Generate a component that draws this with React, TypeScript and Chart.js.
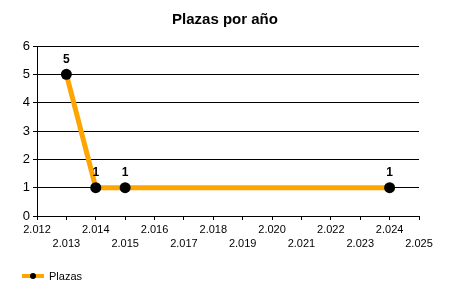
import React, { useEffect, useRef } from "react";
import { Chart, registerables } from "chart.js";

Chart.register(...registerables);

const TITLE = "Plazas por año";
const SERIES_NAME = "Plazas";
const YEARS = [2013, 2014, 2015, 2024];
const VALUES = [5, 1, 1, 1];
const X_MIN = 2012;
const X_MAX = 2025;
const Y_MIN = 0;
const Y_MAX = 6;

const FONT = "'Liberation Sans', Arial, sans-serif";
const ORANGE = "#FFA500";

const fmtYear = (v: number) => {
  const s = String(Math.round(v));
  return s.slice(0, 1) + "." + s.slice(1);
};

const overlayPlugin = {
  id: "overlay",
  afterDatasetsDraw(chart: any) {
    const ctx = chart.ctx;
    const meta = chart.getDatasetMeta(0);
    ctx.save();
    ctx.fillStyle = "#000";
    ctx.font = `bold 12px ${FONT}`;
    ctx.textAlign = "center";
    ctx.textBaseline = "middle";
    meta.data.forEach((pt: any, i: number) => {
      ctx.fillText(String(VALUES[i]), pt.x, pt.y - 15);
    });
    ctx.restore();
  },
  afterDraw(chart: any) {
    const ctx = chart.ctx;
    ctx.save();
    // title
    ctx.fillStyle = "#000";
    ctx.font = `bold 15px ${FONT}`;
    ctx.textAlign = "center";
    ctx.textBaseline = "middle";
    ctx.fillText(TITLE, 225, 20);
    // legend
    const ly = 276;
    ctx.strokeStyle = ORANGE;
    ctx.lineWidth = 4;
    ctx.beginPath();
    ctx.moveTo(22, ly);
    ctx.lineTo(44, ly);
    ctx.stroke();
    ctx.fillStyle = "#000";
    ctx.beginPath();
    ctx.arc(33, ly, 3, 0, Math.PI * 2);
    ctx.fill();
    ctx.font = `11px ${FONT}`;
    ctx.textAlign = "left";
    ctx.fillText(SERIES_NAME, 49, ly + 1);
    ctx.restore();
  },
};

export default function App() {
  const ref = useRef<HTMLCanvasElement | null>(null);
  useEffect(() => {
    if (!ref.current) return;
    const chart = new Chart(ref.current, {
      type: "line",
      data: {
        datasets: [
          {
            label: SERIES_NAME,
            data: YEARS.map((y, i) => ({ x: y, y: VALUES[i] })),
            borderColor: ORANGE,
            backgroundColor: "#000",
            borderWidth: 5,
            pointRadius: 5.5,
            pointBackgroundColor: "#000",
            pointBorderColor: "#000",
            pointBorderWidth: 0,
            tension: 0,
          },
        ],
      },
      options: {
        animation: false,
        responsive: false,
        maintainAspectRatio: false,
        layout: { padding: { left: 0, right: 31, top: 46, bottom: 44 } },
        plugins: {
          legend: { display: false },
          title: { display: false },
          tooltip: { enabled: false },
        },
        scales: {
          x: {
            type: "linear",
            min: X_MIN,
            max: X_MAX,
            afterFit: (s: any) => {
              s.height = 40;
            },
            ticks: {
              stepSize: 1,
              autoSkip: false,
              maxRotation: 0,
              minRotation: 0,
              padding: 3,
              color: "#000",
              font: { family: FONT, size: 11, lineHeight: 1.3 },
              callback: (v: any) => {
                const n = Number(v);
                const t = fmtYear(n);
                return n % 2 === 0 ? [t] : ["", t];
              },
            },
            grid: {
              drawOnChartArea: false,
              drawTicks: true,
              tickLength: 4,
              color: "#000",
            },
            border: { color: "#000", width: 1 },
          },
          y: {
            min: Y_MIN,
            max: Y_MAX,
            afterFit: (s: any) => {
              s.width = 37;
            },
            ticks: {
              stepSize: 1,
              padding: 3,
              color: "#000",
              font: { family: FONT, size: 13 },
            },
            grid: {
              color: "#000",
              lineWidth: 1,
              drawTicks: true,
              tickLength: 4,
            },
            border: { color: "#000", width: 1 },
          },
        },
      },
      plugins: [overlayPlugin],
    } as any);
    return () => chart.destroy();
  }, []);
  return (
    <div style={{ position: "fixed", left: 0, top: 0, width: 450, height: 300, background: "#fff" }}>
      <canvas ref={ref} width={450} height={300} style={{ width: 450, height: 300, display: "block" }} />
    </div>
  );
}
